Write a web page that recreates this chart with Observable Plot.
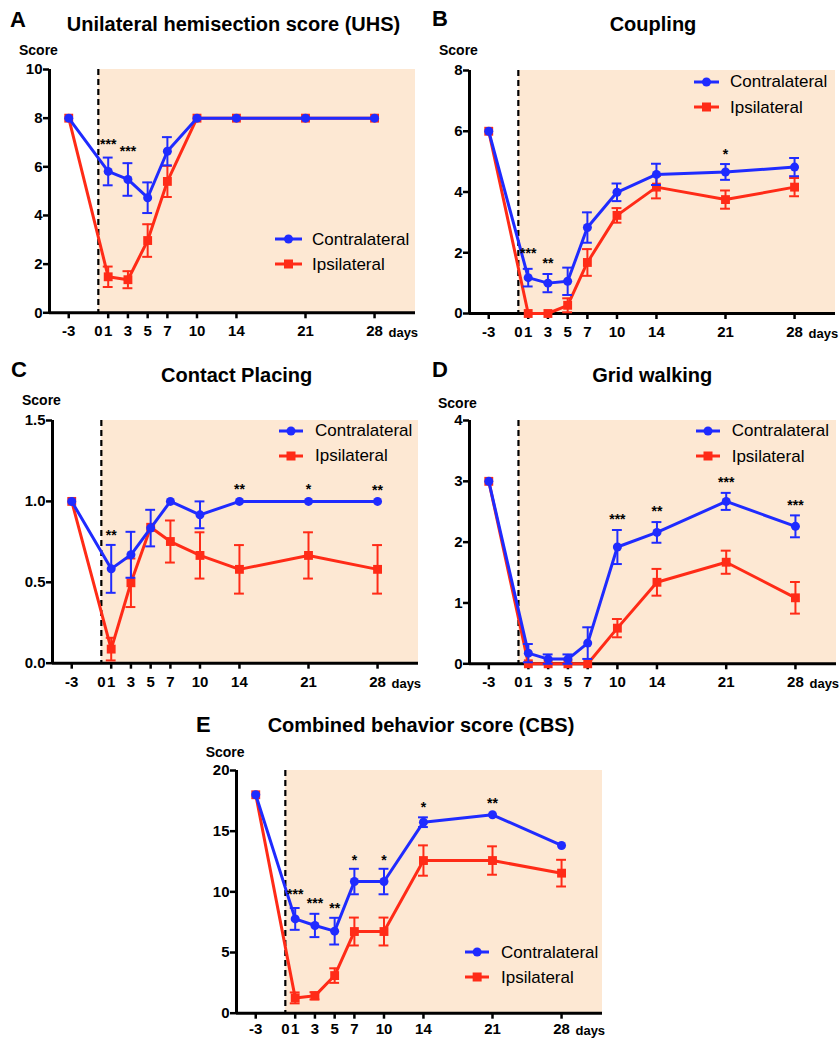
<!DOCTYPE html>
<html><head><meta charset="utf-8">
<script src="https://cdn.jsdelivr.net/npm/d3@7"></script>
<script src="https://cdn.jsdelivr.net/npm/@observablehq/plot@0.6"></script>
<style>
html,body{margin:0;padding:0;background:#fff;}
#root{position:relative;width:839px;height:1038px;overflow:hidden;font-family:"Liberation Sans",Arial,Helvetica,sans-serif;}
.t{position:absolute;line-height:1;white-space:nowrap;color:#000;}
</style></head><body><div id="root"></div>
<script>
// ---------- data ----------
const days = [-3, 1, 3, 5, 7, 10, 14, 21, 28];
const tickDays = [-3, 1, 3, 5, 7, 10, 14, 21, 28];
const seriesNames = ["Contralateral", "Ipsilateral"];

// A: Unilateral hemisection score
const uhsContra    = [8, 5.81, 5.48, 4.73, 6.64, 8, 8, 8, 8];
const uhsContraSem = [0, 0.57, 0.67, 0.63, 0.58, 0, 0, 0, 0];
const uhsIpsi      = [8, 1.48, 1.36, 2.97, 5.40, 8, 8, 8, 8];
const uhsIpsiSem   = [0, 0.42, 0.35, 0.67, 0.64, 0, 0, 0, 0];
const uhsStarDays = [1, 3];
const uhsStarY    = [7.08, 6.8];
const uhsStarText = ["***", "***"];
const uhsTicks = [0, 2, 4, 6, 8, 10];

// B: Coupling
const coupContra    = [6, 1.18, 1.00, 1.06, 2.83, 3.99, 4.58, 4.66, 4.82];
const coupContraSem = [0, 0.29, 0.30, 0.45, 0.50, 0.29, 0.35, 0.26, 0.30];
const coupIpsi      = [6, 0, 0, 0.27, 1.68, 3.23, 4.16, 3.75, 4.16];
const coupIpsiSem   = [0, 0, 0, 0.23, 0.44, 0.24, 0.37, 0.30, 0.30];
const coupStarDays = [1, 3, 21];
const coupStarY    = [2.1, 1.78, 5.35];
const coupStarText = ["***", "**", "*"];
const coupTicks = [0, 2, 4, 6, 8];

// C: Contact placing
const cpContra    = [1, 0.583, 0.67, 0.835, 1.0, 0.917, 1, 1, 1];
const cpContraSem = [0, 0.148, 0.142, 0.113, 0, 0.083, 0, 0, 0];
const cpIpsi      = [1, 0.087, 0.497, 0.84, 0.752, 0.666, 0.58, 0.666, 0.58];
const cpIpsiSem   = [0, 0.07, 0.15, 0, 0.13, 0.143, 0.15, 0.143, 0.15];
const cpStarDays = [1, 14, 21, 28];
const cpStarY    = [0.816, 1.098, 1.098, 1.094];
const cpStarText = ["**", "**", "*", "**"];
const cpTicks = [0, 0.5, 1, 1.5];

// D: Grid walking
const gwContra    = [3, 0.175, 0.077, 0.077, 0.34, 1.92, 2.16, 2.67, 2.26];
const gwContraSem = [0, 0.15, 0.077, 0.077, 0.26, 0.28, 0.17, 0.14, 0.18];
const gwIpsi      = [3, 0, 0, 0, 0, 0.586, 1.34, 1.67, 1.085];
const gwIpsiSem   = [0, 0, 0, 0, 0, 0.15, 0.22, 0.19, 0.26];
const gwStarDays = [10, 14, 21, 28];
const gwStarY    = [2.43, 2.575, 3.05, 2.66];
const gwStarText = ["***", "**", "***", "***"];
const gwTicks = [0, 1, 2, 3, 4];

// E: Combined behavior score
const cbsContra    = [18, 7.77, 7.23, 6.76, 10.85, 10.85, 15.74, 16.35, 13.82];
const cbsContraSem = [0, 0.9, 0.96, 1.1, 1.05, 1.05, 0.4, 0, 0];
const cbsIpsi      = [18, 1.26, 1.43, 3.1, 6.73, 6.73, 12.58, 12.58, 11.54];
const cbsIpsiSem   = [0, 0.45, 0.3, 0.6, 1.15, 1.15, 1.25, 1.17, 1.1];
const cbsStarDays = [1, 3, 5, 7, 10, 14, 21];
const cbsStarY    = [10.1, 9.34, 8.96, 12.94, 12.94, 17.25, 17.58];
const cbsStarText = ["***", "***", "**", "*", "*", "*", "**"];
const cbsTicks = [0, 5, 10, 15, 20];

// ---------- style ----------
const BLUE = "#1f2bff";
const RED = "#ff2b17";
const SHADE = "#fde8d3";
const FONT = '"Liberation Sans", Arial, Helvetica, sans-serif';
const X0 = -4.95, X1 = 32.15;
const root = document.getElementById("root");
const plainFmt = d => String(d);

function text(str, x, baseline, size, weight, anchor) {
  const el = document.createElement("div");
  el.className = "t";
  el.textContent = str;
  el.style.fontSize = size + "px";
  el.style.fontWeight = weight;
  el.style.top = (baseline - 0.8465 * size) + "px";
  el.style.left = x + "px";
  if (anchor === "middle") el.style.transform = "translateX(-50%)";
  root.appendChild(el);
}

function legend(lx1, lx2, yBlue, yRed, tx) {
  [[yBlue, BLUE, "circle", seriesNames[0]], [yRed, RED, "square", seriesNames[1]]].forEach(([y, c, shape, name]) => {
    const w = lx2 - lx1;
    const s = d3.create("svg").attr("width", w).attr("height", 14)
      .style("position", "absolute").style("left", lx1 + "px").style("top", (y - 7) + "px");
    s.append("line").attr("x1", 0).attr("x2", w).attr("y1", 7).attr("y2", 7).attr("stroke", c).attr("stroke-width", 3);
    if (shape === "circle") s.append("circle").attr("cx", w / 2).attr("cy", 7).attr("r", 4.5).attr("fill", c);
    else s.append("rect").attr("x", w / 2 - 4.5).attr("y", 2.5).attr("width", 9).attr("height", 9).attr("fill", c);
    root.appendChild(s.node());
    text(name, tx, y + 6, 17, "normal");
  });
}

function panel(cfg) {
  const {axisX, yTopPx, yBotPx, xRightPx, ymax, yticks, yfmt, contra, contraSem, ipsi, ipsiSem, starDays, starY, starText} = cfg;
  const pad = cfg.pad ?? 7;
  const mL = 50, mT = 15, mB = 34, mR = 0;
  const width = mL + (xRightPx - axisX) + mR;
  const height = mT + (yBotPx - yTopPx) + mB;
  const rows = (vals, sems) => days.map((d, i) => ({day: d, v: vals[i], s: sems[i]}));
  const co = rows(contra, contraSem), ip = rows(ipsi, ipsiSem);
  const stars = starDays.map((d, i) => ({day: d, y: starY[i], t: starText[i]}));
  const errMarks = (data, color) => {
    const e = data.filter(d => d.s > 0);
    return [
      Plot.ruleX(e, {x: "day", y1: d => d.v - d.s, y2: d => d.v + d.s, stroke: color, strokeWidth: 2}),
      Plot.ruleY(e, {y: d => d.v + d.s, x1: d => d.day - 0.5, x2: d => d.day + 0.5, stroke: color, strokeWidth: 2}),
      Plot.ruleY(e, {y: d => d.v - d.s, x1: d => d.day - 0.5, x2: d => d.day + 0.5, stroke: color, strokeWidth: 2})
    ];
  };
  const svg = Plot.plot({
    width, height, marginLeft: mL, marginRight: mR, marginTop: mT, marginBottom: mB,
    x: {domain: [X0, X1]},
    y: {domain: [0, ymax]},
    style: {fontFamily: FONT, overflow: "visible", background: "transparent", color: "#000"},
    marks: [
      Plot.rect([{a: 0, b: X1}], {x1: "a", x2: "b", y1: 0, y2: ymax, fill: SHADE}),
      Plot.ruleX([0], {stroke: "#000", strokeWidth: 2.2, strokeDasharray: "6,4"}),
      Plot.axisY({ticks: yticks, tickFormat: yfmt, tickSize: 6, tickPadding: 1, fontSize: 15, fontWeight: "bold", strokeWidth: 2.5, label: null}),
      Plot.axisX({ticks: tickDays, tickFormat: plainFmt, tickSize: 6, tickPadding: pad, fontSize: 15, fontWeight: "bold", strokeWidth: 2.5, label: null}),
      Plot.axisX({ticks: [0], tickFormat: plainFmt, tickSize: 0, tickPadding: pad + 6, fontSize: 15, fontWeight: "bold", label: null}),
      Plot.text(["days"], {frameAnchor: "bottom-right", text: d => d, dx: -27, dy: 17.5 + pad, lineAnchor: "bottom", textAnchor: "start", fontSize: 13, fontWeight: "bold"}),
      Plot.ruleX([X0], {y1: 0, y2: ymax, stroke: "#000", strokeWidth: 3}),
      Plot.ruleY([0], {stroke: "#000", strokeWidth: 3}),
      Plot.line(ip, {x: "day", y: "v", stroke: RED, strokeWidth: 3}),
      ...errMarks(ip, RED),
      Plot.dot(ip, {x: "day", y: "v", symbol: "square", r: 5, fill: RED}),
      Plot.line(co, {x: "day", y: "v", stroke: BLUE, strokeWidth: 3}),
      ...errMarks(co, BLUE),
      Plot.dot(co, {x: "day", y: "v", symbol: "circle", r: 4.5, fill: BLUE}),
      Plot.text(stars, {x: "day", y: "y", text: "t", fontSize: 14, fontWeight: "bold", dy: 4})
    ]
  });
  svg.style.position = "absolute";
  svg.style.left = (axisX - mL) + "px";
  svg.style.top = (yTopPx - mT) + "px";
  root.appendChild(svg);
}

const fmtInt = plainFmt, fmt1 = d3.format(".1f");

// Panel A
panel({axisX: 49, yTopPx: 69, yBotPx: 312.3, xRightPx: 415, ymax: 10, yticks: uhsTicks, yfmt: fmtInt,
  contra: uhsContra, contraSem: uhsContraSem, ipsi: uhsIpsi, ipsiSem: uhsIpsiSem,
  starDays: uhsStarDays, starY: uhsStarY, starText: uhsStarText});
text("A", 10, 28, 22, "bold");
text("Unilateral hemisection score (UHS)", 233.5, 31, 20, "bold", "middle");
text("Score", 19, 55, 14, "bold");
legend(275, 302, 239, 264.3, 312);

// Panel B
panel({axisX: 469, yTopPx: 70, yBotPx: 313, xRightPx: 835, ymax: 8, yticks: coupTicks, yfmt: fmtInt,
  contra: coupContra, contraSem: coupContraSem, ipsi: coupIpsi, ipsiSem: coupIpsiSem,
  starDays: coupStarDays, starY: coupStarY, starText: coupStarText});
text("B", 432, 27, 22, "bold");
text("Coupling", 653, 31, 20, "bold", "middle");
text("Score", 439, 55, 14, "bold");
legend(694, 719, 81.7, 107.3, 730);

// Panel C
panel({axisX: 52, yTopPx: 420, yBotPx: 662.7, xRightPx: 418, ymax: 1.5, yticks: cpTicks, yfmt: fmt1,
  contra: cpContra, contraSem: cpContraSem, ipsi: cpIpsi, ipsiSem: cpIpsiSem,
  starDays: cpStarDays, starY: cpStarY, starText: cpStarText});
text("C", 11, 378, 22, "bold");
text("Contact Placing", 236.7, 381.7, 20, "bold", "middle");
text("Score", 22, 405, 14, "bold");
legend(279, 303, 430.7, 455.7, 315);

// Panel D
panel({axisX: 469, yTopPx: 420, yBotPx: 663.3, xRightPx: 836, ymax: 4, yticks: gwTicks, yfmt: fmtInt,
  contra: gwContra, contraSem: gwContraSem, ipsi: gwIpsi, ipsiSem: gwIpsiSem,
  starDays: gwStarDays, starY: gwStarY, starText: gwStarText});
text("D", 432, 378, 22, "bold");
text("Grid walking", 652.3, 381.7, 20, "bold", "middle");
text("Score", 438, 408, 14, "bold");
legend(696, 720, 430.7, 456, 731.7);

// Panel E
panel({axisX: 235.7, yTopPx: 770, yBotPx: 1012.7, xRightPx: 601.7, ymax: 20, yticks: cbsTicks, yfmt: fmtInt,
  contra: cbsContra, contraSem: cbsContraSem, ipsi: cbsIpsi, ipsiSem: cbsIpsiSem,
  starDays: cbsStarDays, starY: cbsStarY, starText: cbsStarText, pad: 4});
text("E", 196, 732.7, 22, "bold");
text("Combined behavior score (CBS)", 421, 731.7, 20, "bold", "middle");
text("Score", 205.7, 756.7, 14, "bold");
legend(465, 489.3, 952.3, 977.3, 501);
</script>
</body></html>
